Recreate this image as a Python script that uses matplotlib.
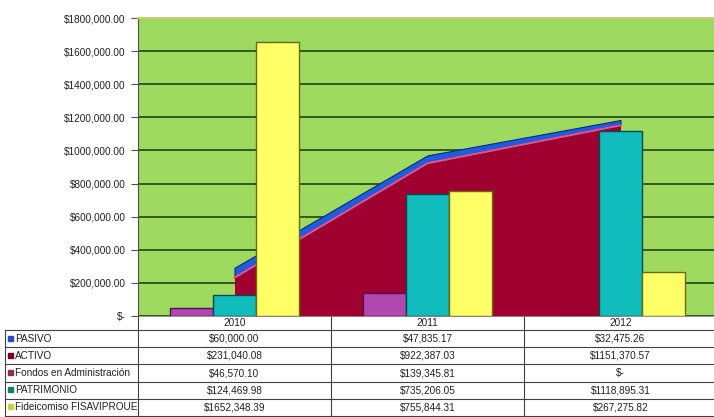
import matplotlib
matplotlib.use('Agg')
import matplotlib.pyplot as plt
import matplotlib.transforms as mtrans
from matplotlib.ticker import FuncFormatter
import numpy as np

years = ['2010', '2011', '2012']
pasivo = [60000.00, 47835.17, 32475.26]
activo = [231040.08, 922387.03, 1151370.57]
fondos = [46570.10, 139345.81, 0.0]
patrimonio = [124469.98, 735206.05, 1118895.31]
fideicomiso = [1652348.39, 755844.31, 267275.82]

row_names = ['PASIVO', 'ACTIVO', 'Fondos en Administración', 'PATRIMONIO', 'Fideicomiso FISAVIPROUE']
row_values = [pasivo, activo, fondos, patrimonio, fideicomiso]
key_colors = ['#2050c8', '#7a0020', '#8a3050', '#108060', '#c8d040']

plt.rcParams['font.family'] = ['Liberation Sans', 'DejaVu Sans']
FS = 7.2


def money(v, pos=None):
    # Excel style: only the thousands group gets a comma
    if v == 0:
        return '$-'
    cents = int(round(v * 100))
    whole, c = divmod(cents, 100)
    if whole >= 1000:
        s = f'{whole // 1000},{whole % 1000:03d}'
    else:
        s = str(whole)
    return f'${s}.{c:02d}'


fig = plt.figure(figsize=(7.14, 4.17), dpi=100)
W, H = 714, 417

# main plot area
ax = fig.add_axes([138 / W, (H - 316) / H, 579 / W, 298 / H])
ax.set_facecolor('#9ed960')
x = np.arange(len(years))

# stacked area: ACTIVO + PASIVO
top = np.array(activo) + np.array(pasivo)
ax.fill_between(x, 0, activo, color='#a0002f', lw=0, zorder=2)
ax.fill_between(x, activo, top, facecolor='#1f5ce0', edgecolor='#0a2a80', lw=0.8, zorder=2)
ax.plot(x, activo, color='#ff4a7a', lw=1.4, zorder=2.1)

# bars
w = 0.222
bar_sets = [(fondos, -w, '#b048b0', '#501050'),
            (patrimonio, 0, '#10bcbc', '#064a4a'),
            (fideicomiso, w, '#ffff66', '#6a6a10')]
for vals, off, fc, ec in bar_sets:
    ax.bar(x + off, vals, width=w, color=fc, edgecolor=ec, lw=1.0, zorder=3)

ax.set_xlim(-0.5, 2.5)
ax.set_ylim(0, 1800000)
ax.set_yticks(np.arange(0, 1800001, 200000))
ax.yaxis.set_major_formatter(FuncFormatter(money))
ax.set_xticks([])
ax.yaxis.grid(True, color='#1a3510', lw=1.1)
ax.set_axisbelow(True)
ax.tick_params(axis='y', direction='out', length=5, width=0.8, color='#505050',
               labelsize=FS, labelcolor='#202020', pad=4)
ax.spines['right'].set_visible(False)
ax.spines['top'].set_color('#c8d070')
ax.spines['top'].set_linewidth(1.5)
ax.spines['left'].set_color('#505050')
ax.spines['bottom'].set_color('#808080')
ax.spines['bottom'].set_linewidth(0.6)

# data table (drawn on a pixel-based overlay)
tax = fig.add_axes([0, 0, 1, 1], zorder=-1)
tax.set_xlim(0, W)
tax.set_ylim(H, 0)
tax.axis('off')
trans = mtrans.blended_transform_factory(ax.transData, tax.transData)

lc = '#404040'
row_y = [330, 347.2, 364.4, 381.6, 398.8, 416]
for yy in row_y:
    tax.plot([5, 720], [yy, yy], color=lc, lw=0.8)
tax.plot([5, 5], [row_y[0], H], color=lc, lw=0.8)
tax.plot([138, 138], [316, H], color=lc, lw=0.8)
for b in [0.5, 1.5]:
    tax.plot([b, b], [316, H], color=lc, lw=0.8, transform=trans)

for i, yr in enumerate(years):
    tax.text(i, 323.5, yr, transform=trans, ha='center', va='center', fontsize=FS, color='#202020')

for r, (name, vals, kc) in enumerate(zip(row_names, row_values, key_colors)):
    yc = (row_y[r] + row_y[r + 1]) / 2
    tax.add_patch(plt.Rectangle((8, yc - 3), 5, 5, color=kc))
    tax.text(15, yc, name, ha='left', va='center', fontsize=FS, color='#202020')
    for i, v in enumerate(vals):
        tax.text(i, yc, money(v), transform=trans, ha='center', va='center',
                 fontsize=FS, color='#202020')

fig.savefig('out.png', dpi=100)
